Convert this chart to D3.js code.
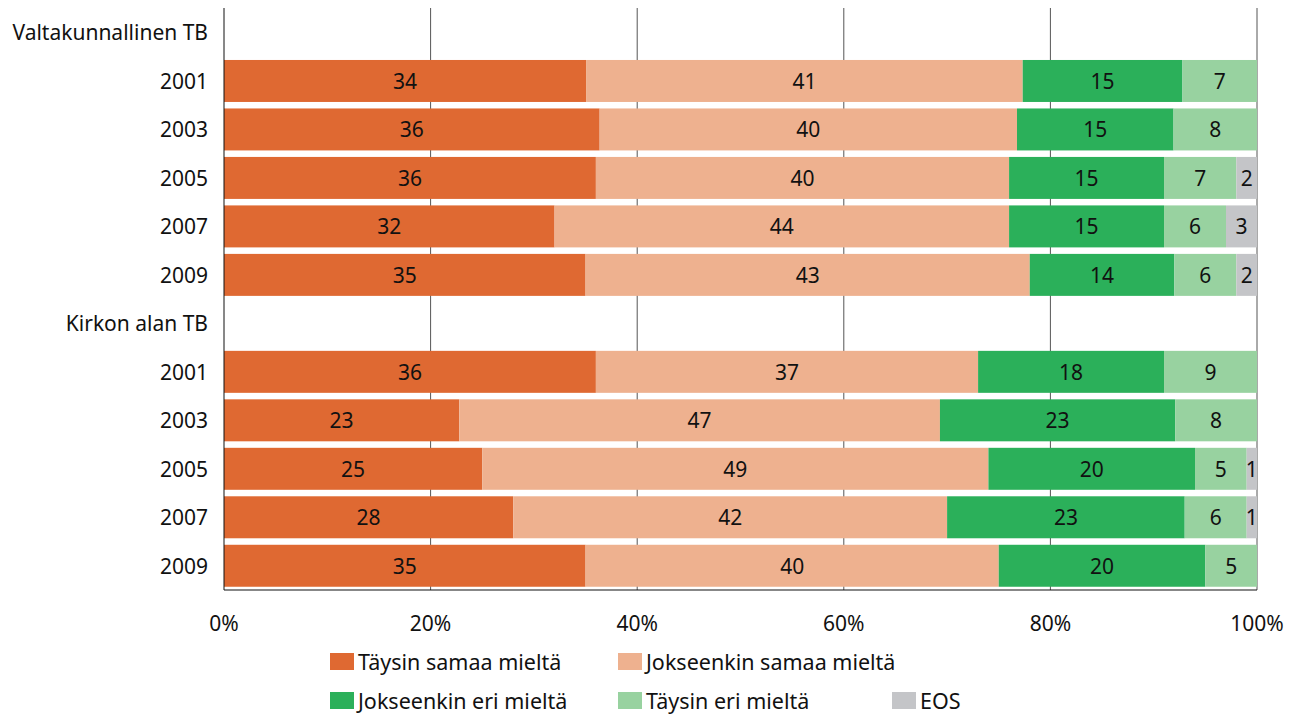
<!DOCTYPE html>
<html>
<head>
<meta charset="utf-8">
<script src="https://cdn.jsdelivr.net/npm/d3@7"></script>
<style>
  body { margin: 0; background: #fff; }
  text { font-family: "Noto Sans", sans-serif; fill: #111; }
</style>
</head>
<body>
<div id="chart"></div>
<script>
// answer categories (stack order, left to right)
const series = ["Täysin samaa mieltä", "Jokseenkin samaa mieltä", "Jokseenkin eri mieltä", "Täysin eri mieltä", "EOS"];
const years = ["2001", "2003", "2005", "2007", "2009"];
const groups = ["Valtakunnallinen TB", "Kirkon alan TB"];

// percentages per year, in series order
const valtakunnallinenTB = [
    [34, 41, 15, 7, 0],
    [36, 40, 15, 8, 0],
    [36, 40, 15, 7, 2],
    [32, 44, 15, 6, 3],
    [35, 43, 14, 6, 2]
];
const kirkonAlanTB = [
    [36, 37, 18, 9, 0],
    [23, 47, 23, 8, 0],
    [25, 49, 20, 5, 1],
    [28, 42, 23, 6, 1],
    [35, 40, 20, 5, 0]
];

const ticks = [0, 0.2, 0.4, 0.6, 0.8, 1];

const colors = ["#df6932", "#eeb18f", "#2bb05a", "#98d2a0", "#c4c5c8"];

const width = 1296,
      height = 716,
      margin = ({top: 8, right: 39, bottom: 126, left: 224});

// rows: a header row for each group, then one row per year
let rows = [];
[valtakunnallinenTB, kirkonAlanTB].forEach((vals, gi) => {
    rows.push({id: "h" + gi, label: groups[gi], header: true});
    vals.forEach((v, i) => {
        let r = {id: gi + "-" + years[i], label: years[i], header: false};
        series.forEach((s, j) => r[s] = v[j]);
        rows.push(r);
    });
});
const barRows = rows.filter(d => !d.header);

let svg = d3.select("#chart")
    .append("svg")
    .attr("width", width)
    .attr("height", height);

let x = d3.scaleLinear()
    .domain([0, 1])
    .range([margin.left, width - margin.right]);

let y = d3.scaleBand()
    .domain(rows.map(d => d.id))
    .range([margin.top + 0.25, height - margin.bottom])
    .paddingInner(0.134)
    .paddingOuter(0.067);

const plotBottom = height - margin.bottom;

// grid lines
svg.append("g")
    .selectAll("line")
    .data(ticks.slice(1))
    .join("line")
    .attr("x1", d => x(d))
    .attr("x2", d => x(d))
    .attr("y1", margin.top)
    .attr("y2", plotBottom)
    .attr("stroke", "#555")
    .attr("stroke-width", 1);

let stack = d3.stack()
    .keys(series)
    .offset(d3.stackOffsetExpand);

let layers = stack(barRows);

let layer = svg.append("g")
    .selectAll("g")
    .data(layers)
    .join("g")
    .attr("fill", (d, i) => colors[i]);

layer.selectAll("rect")
    .data(d => d)
    .join("rect")
    .attr("x", d => x(d[0]))
    .attr("y", d => y(d.data.id))
    .attr("width", d => x(d[1]) - x(d[0]))
    .attr("height", y.bandwidth());

// value labels
layer.selectAll("text")
    .data(d => d.map(p => ({p: p, v: p.data[d.key]})).filter(e => e.v > 0))
    .join("text")
    .attr("x", e => (x(e.p[0]) + x(e.p[1])) / 2)
    .attr("y", e => y(e.p.data.id) + y.bandwidth() / 2)
    .attr("text-anchor", "middle")
    .attr("dominant-baseline", "central")
    .attr("font-size", 21)
    .text(e => e.v);

// axes lines
svg.append("line")
    .attr("x1", x(0)).attr("x2", x(0))
    .attr("y1", margin.top).attr("y2", plotBottom)
    .attr("stroke", "#111");

svg.append("line")
    .attr("x1", x(0)).attr("x2", x(1))
    .attr("y1", plotBottom).attr("y2", plotBottom)
    .attr("stroke", "#111");

// row labels
svg.append("g")
    .selectAll("text")
    .data(rows)
    .join("text")
    .attr("x", margin.left - 16)
    .attr("y", d => y(d.id) + y.bandwidth() / 2)
    .attr("text-anchor", "end")
    .attr("dominant-baseline", "central")
    .attr("font-size", 21)
    .text(d => d.label);

// x tick labels
svg.append("g")
    .selectAll("text")
    .data(ticks)
    .join("text")
    .attr("x", d => x(d))
    .attr("y", 623)
    .attr("text-anchor", "middle")
    .attr("dominant-baseline", "central")
    .attr("font-size", 21)
    .text(d => d3.format(".0%")(d));

// legend
const legendPos = [[330, 661], [618, 661], [330, 700], [618, 700], [892, 700]];

let legend = svg.append("g")
    .selectAll("g")
    .data(series)
    .join("g")
    .attr("transform", (d, i) => `translate(${legendPos[i][0]},${legendPos[i][1]})`);

legend.append("rect")
    .attr("x", 0)
    .attr("y", -8)
    .attr("width", 24)
    .attr("height", 17)
    .attr("fill", (d, i) => colors[i]);

legend.append("text")
    .attr("x", 28)
    .attr("y", 0)
    .attr("dominant-baseline", "central")
    .attr("font-size", 21.5)
    .text(d => d);
</script>
</body>
</html>
